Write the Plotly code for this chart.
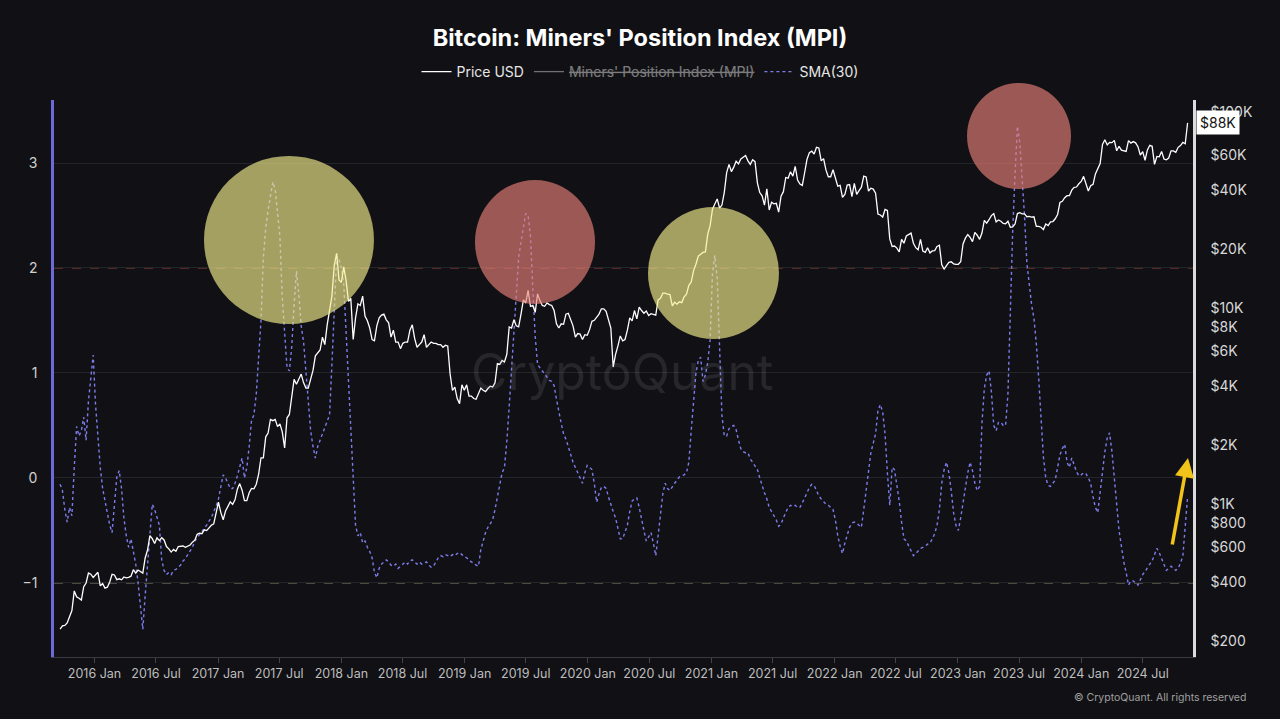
import math
import pandas as pd
import plotly.graph_objects as go

# ---------------- data (weekly, Mondays from 2015-09-21) ----------------
start_date = "2015-09-21"

price_2015 = [230, 239, 240, 247, 266, 286, 360, 336, 330, 323, 378, 395, 444, 438, 422]
price_2016 = [433, 448, 382, 392, 372, 376, 400, 437, 434, 411, 415, 410, 424,
              420, 422, 428, 462, 444, 460, 454, 444, 530, 582, 690, 665, 628,
              672, 650, 672, 655, 606, 590, 568, 586, 573, 606, 608, 610, 601,
              612, 617, 638, 653, 700, 710, 705, 738, 731, 756, 779, 792, 895]
price_2017 = [1020, 905, 830, 920, 965, 1025, 995, 1050, 1190, 1270, 1175, 1040, 1040,
              1140, 1200, 1195, 1260, 1420, 1720, 1720, 2200, 2300, 2700, 2660, 2700, 2480,
              2560, 2330, 1930, 2750, 2860, 3420, 4320, 4080, 4380, 4600, 4160, 3900, 3900,
              4400, 4800, 5700, 5900, 6100, 7100, 6500, 8200, 9800, 11500, 16500, 19000, 13900]
price_2018 = [13500, 16200, 13800, 10800, 11200, 6900, 8900, 10500, 10300, 11500, 9100, 8600, 7900,
              6900, 6800, 8100, 8900, 9200, 9300, 8700, 8400, 7100, 7700, 6700, 6700, 6200,
              6600, 6700, 6700, 7700, 8200, 7000, 6300, 6500, 6700, 7300, 6300, 6500, 6700,
              6600, 6600, 6500, 6500, 6300, 6450, 6400, 4600, 3800, 3950, 3450, 3250, 4050]
price_2019 = [3800, 4050, 3550, 3550, 3450, 3420, 3620, 3900, 3800, 3740, 3880, 3990, 3950,
              4150, 5200, 5150, 5400, 5300, 5800, 8000, 7900, 8700, 8100, 8000, 9300, 11000,
              10600, 12300, 10200, 10300, 9500, 11800, 10900, 10300, 10200, 10600, 10400, 10300, 9700,
              8300, 7900, 8300, 8250, 9300, 9400, 8800, 8100, 7100, 7400, 7350, 6900, 7300, 7250]
price_2020 = [7750, 8550, 8650, 8950, 9300, 9900, 9900, 9600, 8700, 7900, 5000, 5800, 6400,
              7200, 6800, 6900, 7700, 8900, 8600, 9700, 8800, 10100, 9700, 9400, 9650, 9150,
              9350, 9250, 9200, 11000, 11200, 11900, 11900, 11750, 11700, 10250, 10700, 10450, 10750,
              10650, 11400, 11750, 13050, 13550, 15500, 16700, 18400, 18800, 19200, 19300, 23800, 26300]
price_2021 = [31900, 33900, 36000, 32300, 33500, 38900, 49000, 54000, 49600, 52300, 56000, 54300, 57600,
              58800, 60000, 56300, 54000, 57000, 55800, 43500, 38800, 37300, 33500, 40500, 31600, 34600,
              34000, 34200, 30800, 37200, 39200, 46300, 45900, 49500, 47000, 52700, 44900, 42900, 42200,
              49100, 57400, 62000, 63100, 61000, 66000, 65500, 56300, 57800, 50600, 46700, 46700, 50700]
price_2022 = [46400, 41800, 42200, 36700, 37900, 42400, 42600, 37000, 43200, 38000, 39700, 41300, 47100,
              46600, 39500, 40800, 40400, 38500, 30100, 29800, 29100, 31800, 31400, 22500, 20600, 20700,
              20200, 19300, 22400, 21400, 23300, 23800, 24100, 21400, 20300, 19800, 22400, 19500, 19200,
              20300, 19100, 19550, 19600, 20600, 20900, 16600, 15800, 16450, 17100, 17200, 16800, 16700]
price_2023 = [16700, 17200, 21200, 22700, 23700, 22900, 21800, 24300, 23500, 22400, 24100, 28000, 27100,
              28200, 29600, 30300, 27500, 28100, 27700, 27000, 26900, 27700, 25800, 25900, 26800, 30300,
              30600, 30200, 30200, 29200, 29300, 29100, 29200, 26100, 26100, 25800, 25100, 26800, 26300,
              27500, 27600, 28500, 30000, 34500, 35000, 36500, 37400, 37400, 39900, 41200, 41400, 43000]
price_2024 = [44200, 46900, 42500, 39500, 42000, 42700, 48300, 51700, 54500, 68300, 72100, 67900, 70000,
              69700, 71600, 63400, 66800, 63800, 63200, 62900, 71400, 69400, 70600, 69600, 66500, 60300,
              62700, 56700, 64000, 67600, 66800, 54000, 59300, 59000, 62900, 57500, 57000, 58200, 63300,
              63300, 62200, 66000, 67400, 69900, 68800, 88000]

sma_2015 = [-0.06, -0.12, -0.3, -0.42, -0.28, -0.36, 0.1, 0.49, 0.4, 0.45, 0.58, 0.36, 0.73, 0.95, 1.17]
sma_2016 = [0.7, 0.4, 0.1, -0.1, -0.23, -0.35, -0.45, -0.52, -0.25, 0.01, 0.07, -0.1, -0.38,
            -0.55, -0.66, -0.58, -0.7, -0.82, -1.0, -1.25, -1.44, -1.12, -0.8, -0.47, -0.25, -0.3,
            -0.38, -0.45, -0.78, -0.88, -0.92, -0.9, -0.92, -0.88, -0.87, -0.85, -0.83, -0.79, -0.77,
            -0.73, -0.7, -0.66, -0.6, -0.57, -0.54, -0.51, -0.49, -0.45, -0.41, -0.38, -0.32, -0.27]
sma_2017 = [-0.2, -0.1, 0.03, 0.0, -0.05, -0.1, -0.1, -0.05, 0.02, 0.1, 0.19, 0.0, 0.1,
            0.3, 0.55, 0.6, 0.8, 1.15, 1.5, 2.1, 2.38, 2.55, 2.7, 2.82, 2.75, 2.55,
            2.3, 1.72, 1.4, 1.05, 1.02, 1.25, 1.65, 1.97, 1.75, 1.45, 1.3, 1.0, 0.73,
            0.45, 0.3, 0.19, 0.3, 0.36, 0.42, 0.46, 0.52, 0.6, 1.08, 1.65, 2.11, 2.08]
sma_2018 = [2.0, 1.85, 1.4, 0.95, 0.45, -0.08, -0.45, -0.55, -0.52, -0.62, -0.6, -0.66, -0.7,
            -0.76, -0.9, -0.95, -0.86, -0.82, -0.8, -0.78, -0.8, -0.83, -0.84, -0.82, -0.86, -0.84,
            -0.82, -0.8, -0.82, -0.79, -0.78, -0.8, -0.82, -0.8, -0.82, -0.81, -0.8, -0.83, -0.85,
            -0.84, -0.8, -0.76, -0.74, -0.75, -0.73, -0.74, -0.75, -0.73, -0.74, -0.72, -0.71, -0.73]
sma_2019 = [-0.75, -0.76, -0.78, -0.8, -0.81, -0.83, -0.84, -0.68, -0.6, -0.52, -0.47, -0.44, -0.4,
            -0.3, -0.18, -0.05, 0.05, 0.1, 0.35, 0.68, 1.05, 1.35, 1.7, 2.1, 2.25, 2.38,
            2.52, 2.5, 2.3, 1.8, 1.35, 1.08, 1.05, 1.03, 1.0, 0.96, 0.93, 0.92, 0.88,
            0.75, 0.62, 0.52, 0.42, 0.37, 0.3, 0.22, 0.15, 0.1, 0.05, 0.0, -0.05, 0.05, 0.12]
sma_2020 = [0.1, 0.08, -0.05, -0.23, -0.15, -0.09, -0.08, -0.1, -0.18, -0.26, -0.32, -0.38, -0.48,
            -0.58, -0.58, -0.52, -0.45, -0.32, -0.22, -0.2, -0.19, -0.28, -0.4, -0.5, -0.6, -0.56,
            -0.52, -0.62, -0.74, -0.55, -0.35, -0.15, -0.05, -0.1, -0.12, -0.08, -0.05, -0.02, 0.01,
            0.02, 0.03, 0.05, 0.15, 0.45, 0.75, 1.0, 1.12, 1.15, 0.92, 0.98, 1.1, 1.32]
sma_2021 = [1.95, 2.12, 1.9, 1.15, 0.6, 0.4, 0.4, 0.47, 0.49, 0.5, 0.46, 0.36, 0.28,
            0.25, 0.24, 0.24, 0.18, 0.15, 0.12, 0.08, 0.0, -0.08, -0.14, -0.2, -0.28, -0.32,
            -0.36, -0.4, -0.46, -0.44, -0.38, -0.32, -0.28, -0.26, -0.27, -0.26, -0.28, -0.28, -0.24,
            -0.19, -0.14, -0.09, -0.06, -0.07, -0.12, -0.17, -0.2, -0.23, -0.25, -0.26, -0.28, -0.3]
sma_2022 = [-0.4, -0.55, -0.65, -0.72, -0.62, -0.55, -0.47, -0.43, -0.42, -0.43, -0.45, -0.47, -0.3,
            -0.1, 0.08, 0.24, 0.33, 0.42, 0.64, 0.7, 0.63, 0.42, 0.05, -0.26, 0.1, 0.08,
            -0.07, -0.22, -0.42, -0.58, -0.6, -0.65, -0.7, -0.74, -0.72, -0.69, -0.67, -0.66, -0.65,
            -0.63, -0.62, -0.58, -0.53, -0.45, -0.3, -0.05, 0.08, 0.15, 0.05, -0.12, -0.33, -0.45]
sma_2023 = [-0.5, -0.38, -0.22, -0.08, 0.05, 0.15, 0.07, -0.05, -0.12, -0.08, 0.52, 0.85, 0.98,
            1.02, 0.82, 0.5, 0.45, 0.53, 0.53, 0.5, 0.5, 0.8, 1.59, 2.35, 2.9, 3.35,
            3.2, 2.88, 2.5, 2.05, 1.82, 1.65, 1.52, 1.28, 0.95, 0.55, 0.2, 0.0, -0.07,
            -0.08, -0.05, -0.02, 0.1, 0.22, 0.28, 0.32, 0.15, 0.1, 0.19, 0.12, 0.06, 0.02]
sma_2024 = [0.03, 0.05, 0.04, 0.0, -0.05, -0.18, -0.28, -0.33, -0.12, 0.05, 0.25, 0.38, 0.43,
            0.25, 0.0, -0.29, -0.5, -0.65, -0.8, -0.9, -1.02, -0.98, -0.98, -1.0, -1.02, -0.97,
            -0.92, -0.89, -0.85, -0.82, -0.79, -0.72, -0.67, -0.71, -0.77, -0.82, -0.88, -0.86, -0.84,
            -0.86, -0.88, -0.86, -0.81, -0.74, -0.47, -0.18]

price_usd = (price_2015 + price_2016 + price_2017 + price_2018 + price_2019 +
             price_2020 + price_2021 + price_2022 + price_2023 + price_2024)
mpi_sma30 = (sma_2015 + sma_2016 + sma_2017 + sma_2018 + sma_2019 +
             sma_2020 + sma_2021 + sma_2022 + sma_2023 + sma_2024)
n = min(len(price_usd), len(mpi_sma30))
dates = pd.date_range(start_date, periods=n, freq="7D")
price_usd = price_usd[:n]
mpi_sma30 = mpi_sma30[:n]

mpi_ticks = [-1, 0, 1, 2, 3]
price_ticks = [200, 400, 600, 800, 1000, 2000, 4000, 6000, 8000, 10000, 20000, 40000, 60000, 100000]
price_tick_text = ["$200", "$400", "$600", "$800", "$1K", "$2K", "$4K", "$6K", "$8K",
                   "$10K", "$20K", "$40K", "$60K", "$100K"]
last_price_label = "$88K"

# ---------------- figure ----------------
BG = "#111115"
FONT = "Inter"
W, H = 1280, 719

fig = go.Figure()
fig.add_trace(go.Scatter(x=dates, y=price_usd, name="Price USD", yaxis="y2",
                         mode="lines", line=dict(color="#ffffff", width=1.3)))
fig.add_trace(go.Scatter(x=[dates[0]], y=[None], name="<s>Miners' Position Index (MPI)</s>",
                         mode="lines", visible="legendonly",
                         line=dict(color="#d0d0d0", width=1.3)))
fig.add_trace(go.Scatter(x=dates, y=mpi_sma30, name="SMA(30)", yaxis="y",
                         mode="lines", line=dict(color="#7c7cec", width=1.4, dash="dot")))

# reference levels
fig.add_hline(y=2, line=dict(color="#9c4430", width=1, dash="dash"), layer="below")
fig.add_hline(y=-1, line=dict(color="#8a8a6c", width=1, dash="dash"), layer="below")

# highlight circles (paper coordinates of plot area)
def circ(x0, x1, y0, y1, fill):
    fig.add_shape(type="circle", xref="paper", yref="paper", x0=x0, x1=x1, y0=y0, y1=y1,
                  fillcolor=fill, opacity=0.65, line=dict(width=0), layer="above")

YEL = "rgb(245,238,140)"
RED = "rgb(230,128,118)"
circ(0.1317, 0.2809, 0.5978, 0.8995, YEL)
circ(0.3696, 0.4750, 0.6338, 0.8564, RED)
circ(0.5215, 0.6365, 0.5709, 0.8079, YEL)
circ(0.8016, 0.8929, 0.8402, 1.0305, RED)

fig.add_annotation(text="CryptoQuant", xref="paper", yref="paper", x=0.499, y=0.512,
                   showarrow=False, font=dict(family=FONT, size=50, color="rgba(150,150,160,0.16)"))

fig.add_annotation(xref="paper", yref="paper", x=0.9956, y=0.3573, ax=-16, ay=88,
                   axref="pixel", ayref="pixel", text="", showarrow=True,
                   arrowhead=2, arrowsize=1.1, arrowwidth=3.5, arrowcolor="#f2c318")

fig.add_annotation(xref="paper", yref="y2", x=1.003, y=math.log10(price_usd[-1]),
                   xanchor="left", yanchor="middle", text=last_price_label, showarrow=False,
                   bgcolor="#ffffff", borderpad=3,
                   font=dict(family=FONT, size=14, color="#111111"))

fig.add_annotation(xref="paper", yref="paper", x=1.048, y=-0.0736, xanchor="right",
                   yanchor="middle", showarrow=False,
                   text="© CryptoQuant. All rights reserved",
                   font=dict(family=FONT, size=10.5, color="#a0a0a0"))

fig.update_layout(
    width=W, height=H,
    paper_bgcolor=BG, plot_bgcolor=BG,
    margin=dict(l=54, r=87, t=100, b=62),
    font=dict(family=FONT, color="#d8d8d8"),
    title=dict(text="<b>Bitcoin: Miners' Position Index (MPI)</b>", x=0.5, xref="container",
               y=1 - 38 / H, yref="container", yanchor="middle", xanchor="center",
               font=dict(family=FONT, size=23.5, color="#ffffff")),
    showlegend=True,
    legend=dict(orientation="h", xref="container", x=0.5, xanchor="center",
                yref="container", y=1 - 72 / H, yanchor="middle",
                font=dict(family=FONT, size=14, color="#e6e6e6"),
                bgcolor="rgba(0,0,0,0)", itemwidth=30),
    xaxis=dict(type="date", range=["2015-09-03", "2024-11-27"],
               tick0="2016-01-01", dtick="M6", tickformat="%Y %b",
               showgrid=False, zeroline=False,
               showline=True, linecolor="#3a3a42", linewidth=1,
               ticks="outside", ticklen=5, tickcolor="#44444c",
               tickfont=dict(family=FONT, size=12.5, color="#bdbdbd")),
    yaxis=dict(range=[-1.705, 3.6], tickvals=mpi_ticks, showgrid=True,
               gridcolor="#24242b", gridwidth=1, zeroline=False,
               showline=True, linecolor="#6a6ad8", linewidth=2.5,
               ticklabelstandoff=11,
               tickfont=dict(family=FONT, size=14, color="#d0d0d0")),
    yaxis2=dict(type="log", overlaying="y", side="right",
                range=[math.log10(165.6), 5.061],
                tickvals=price_ticks, ticktext=price_tick_text,
                showgrid=False, zeroline=False,
                showline=True, linecolor="#dcdcdc", linewidth=2.5,
                ticklabelstandoff=12,
                tickfont=dict(family=FONT, size=14, color="#d8d8d8")),
)

page_js = ("document.body.style.margin='0';document.body.style.background='%s';"
           "document.documentElement.style.background='%s';" % (BG, BG))
fig.write_html("out.html", post_script=page_js, config={"displayModeBar": False})
